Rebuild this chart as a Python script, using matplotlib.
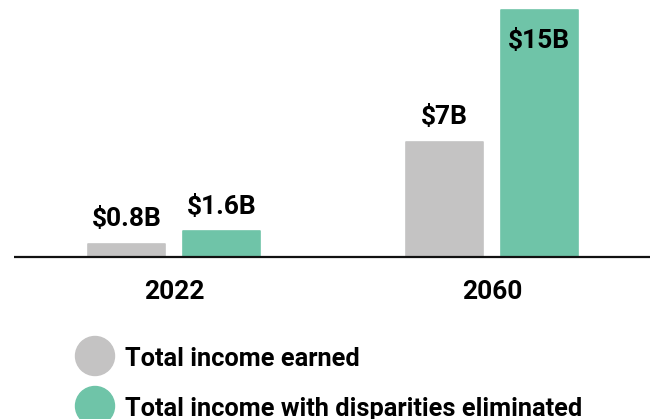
import matplotlib.pyplot as plt
from matplotlib.patches import Ellipse
import numpy as np

plt.rcParams['font.family'] = ['Roboto', 'DejaVu Sans']
plt.rcParams['font.weight'] = 'bold'

years = ['2022', '2060']
earned = [0.8, 7]
no_disparities = [1.6, 15]
earned_labels = ['$0.8B', '$7B']
no_disp_labels = ['$1.6B', '$15B']
series_names = ['Total income earned', 'Total income with disparities eliminated']

gray = '#c4c3c3'
green = '#6fc4a8'

fig = plt.figure(figsize=(6.55, 4.19), dpi=100)
ax = fig.add_axes([0, 0, 1, 1])

x = np.arange(len(years))
w = 0.242
off = 0.149

ax.bar(x - off, earned, w, color=gray, edgecolor=gray, linewidth=1.2, joinstyle='round')
ax.bar(x + off, no_disparities, w, color=green, edgecolor=green, linewidth=1.2, joinstyle='round')

# value labels
for xi, v, lab in zip(x - off, earned, earned_labels):
    ax.annotate(lab, (xi, v), xytext=(0, 18), textcoords='offset points',
                ha='center', va='center', fontsize=19, fontweight='bold')
for xi, v, lab in zip(x + off, no_disparities, no_disp_labels):
    if v > 10:
        dy = -22.5  # tall bar, label inside
    else:
        dy = 17
    ax.annotate(lab, (xi, v), xytext=(0, dy), textcoords='offset points',
                ha='center', va='center', fontsize=19, fontweight='bold')

# baseline
ax.plot([-0.503, 1.497], [0, 0], color='#111111', lw=1.6, solid_capstyle='butt')

# year labels
for xi, yr in zip(x, years):
    ax.annotate(yr, (xi, 0), xytext=(0, -25), textcoords='offset points',
                ha='center', va='center', fontsize=19, fontweight='bold')

ax.set_xlim(-0.547, 1.513)
ax.set_ylim(-9.82, 15.62)
ax.axis('off')

# legend, drawn by hand (positions in figure fraction)
W, H = 655.0, 419.0
for i, (name, col) in enumerate(zip(series_names, [gray, green])):
    cy = 356 + 50 * i
    fig.patches.append(Ellipse((95 / W, 1 - cy / H), 39 / W, 39 / H,
                               transform=fig.transFigure, color=col, figure=fig))
    fig.text(125 / W, 1 - (cy + 9.5) / H, name, fontsize=18.3, fontweight='bold',
             ha='left', va='baseline')

fig.savefig('out.png', dpi=100)
